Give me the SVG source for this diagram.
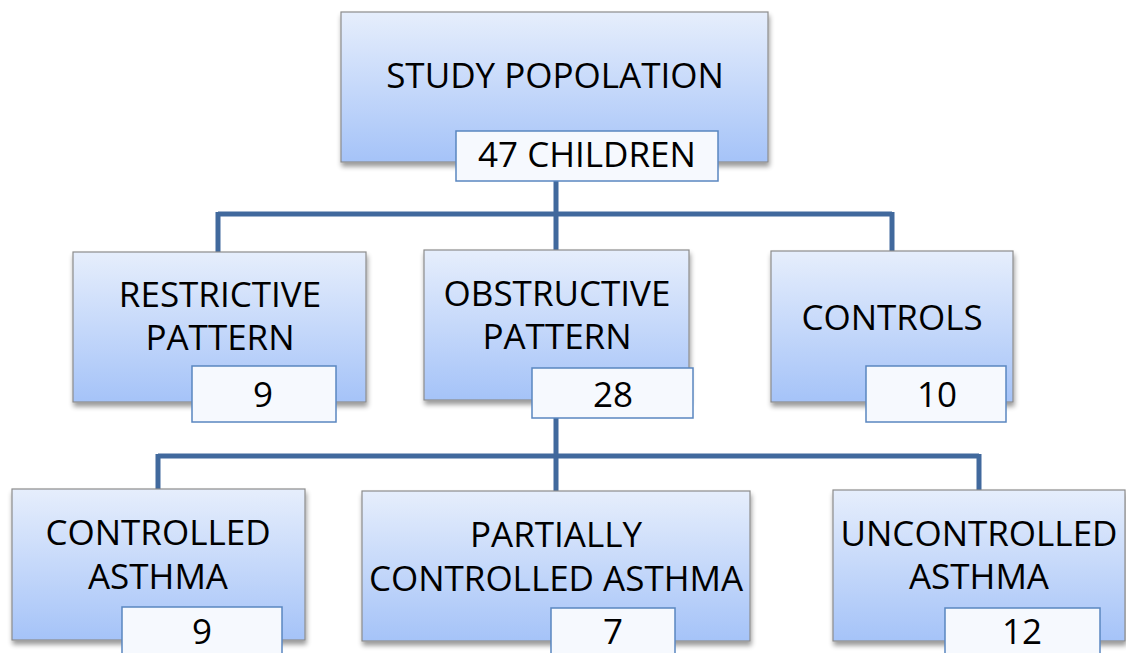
<svg xmlns="http://www.w3.org/2000/svg" width="1126" height="653" viewBox="0 0 1126 653">
<defs>
<linearGradient id="g" x1="0" y1="0" x2="0" y2="1">
<stop offset="0" stop-color="#E6EEFC"/>
<stop offset="1" stop-color="#A5C3F8"/>
</linearGradient>
<filter id="sh" x="-10%" y="-10%" width="120%" height="130%">
<feGaussianBlur in="SourceAlpha" stdDeviation="2.5"/>
<feOffset dx="1" dy="4" result="b"/>
<feComponentTransfer><feFuncA type="linear" slope="0.4"/></feComponentTransfer>
<feMerge><feMergeNode/><feMergeNode in="SourceGraphic"/></feMerge>
</filter>
</defs>
<style>
.box{fill:url(#g);stroke:#8C8C8C;stroke-width:1.2;filter:url(#sh)}
.lab{fill:#F6F9FE;stroke:#5A86C0;stroke-width:1.5}
.t{font-family:"Open Sans","Liberation Sans",sans-serif;font-size:35px;fill:#000;text-anchor:middle}
.con{fill:none;stroke:#41699D;stroke-width:5}
</style>
<g id="connectors">
<path class="con" d="M556 181V214M218 214H892M218 212V252M556 212V250M892 212V251"/>
<path class="con" d="M556 418V456M158 456H979M158 454V489M556 454V491M979 454V490"/>
</g>
<g id="study">
<rect class="box" x="341" y="12" width="427" height="150"/>
<text class="t" x="555" y="88">STUDY POPOLATION</text>
<rect class="lab" x="456" y="131" width="262" height="50"/>
<text class="t" x="587" y="167">47 CHILDREN</text>
</g>
<g id="restrictive">
<rect class="box" x="73" y="252" width="293" height="150"/>
<text class="t" x="220" y="307">RESTRICTIVE</text>
<text class="t" x="220" y="350">PATTERN</text>
<rect class="lab" x="192" y="366" width="144" height="56"/>
<text class="t" x="263" y="407">9</text>
</g>
<g id="obstructive">
<rect class="box" x="424" y="250" width="265" height="150"/>
<text class="t" x="557" y="306">OBSTRUCTIVE</text>
<text class="t" x="557" y="349">PATTERN</text>
<rect class="lab" x="532" y="368" width="161" height="50"/>
<text class="t" x="613" y="407">28</text>
</g>
<g id="controls">
<rect class="box" x="771" y="251" width="242" height="151"/>
<text class="t" x="892" y="330">CONTROLS</text>
<rect class="lab" x="866" y="366" width="140" height="56"/>
<text class="t" x="937" y="407">10</text>
</g>
<g id="controlled">
<rect class="box" x="12" y="489" width="293" height="151"/>
<text class="t" x="158" y="545">CONTROLLED</text>
<text class="t" x="158" y="589">ASTHMA</text>
<rect class="lab" x="122" y="607" width="160" height="60"/>
<text class="t" x="202" y="644">9</text>
</g>
<g id="partially">
<rect class="box" x="362" y="491" width="388" height="150"/>
<text class="t" x="556" y="547">PARTIALLY</text>
<text class="t" x="556" y="591">CONTROLLED ASTHMA</text>
<rect class="lab" x="551" y="608" width="124" height="60"/>
<text class="t" x="613" y="644">7</text>
</g>
<g id="uncontrolled">
<rect class="box" x="833" y="490" width="292" height="151"/>
<text class="t" x="979" y="546">UNCONTROLLED</text>
<text class="t" x="979" y="589">ASTHMA</text>
<rect class="lab" x="945" y="608" width="155" height="60"/>
<text class="t" x="1022" y="644">12</text>
</g>
</svg>
